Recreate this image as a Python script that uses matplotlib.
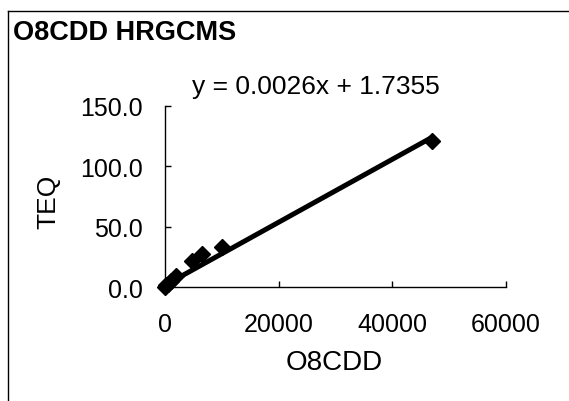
import matplotlib
matplotlib.use("Agg")
import matplotlib.pyplot as plt
from matplotlib.lines import Line2D
import numpy as np

plt.rcParams["font.family"] = ["Liberation Sans", "DejaVu Sans"]

# data
o8cdd = [50, 200, 500, 1000, 2000, 4700, 6450, 9970, 46900]
teq = [0.5, 1.5, 3.0, 5.0, 9.0, 22.0, 27.5, 33.0, 121.0]
slope = 0.0026
intercept = 1.7355

x_ticks = [0, 20000, 40000, 60000]
y_ticks = [0, 50, 100, 150]

fig = plt.figure(figsize=(5.69, 4.02), dpi=100)
fig.patch.set_facecolor("white")
ax = fig.add_axes([165 / 569, 1 - 288.3 / 402, (506 - 165) / 569, (288.3 - 106.7) / 402])

ax.plot(o8cdd, teq, linestyle="none", marker="D", markersize=8,
        color="black", zorder=3, clip_on=False)
xs = np.array([0, max(o8cdd)])
ax.plot(xs, slope * xs + intercept, color="black", linewidth=3.6,
        solid_capstyle="round", zorder=4, clip_on=False)

ax.set_xlim(0, 60000)
ax.set_ylim(0, 150)
ax.set_xticks(x_ticks)
ax.set_xticklabels([str(v) for v in x_ticks])
ax.set_yticks(y_ticks)
ax.set_yticklabels([f"{v:.1f}" for v in y_ticks])
ax.tick_params(direction="in", length=4, width=1, labelsize=18)
ax.tick_params(axis="x", pad=18)
ax.tick_params(axis="y", pad=16)
for side in ("top", "right"):
    ax.spines[side].set_visible(False)
for side in ("left", "bottom"):
    ax.spines[side].set_linewidth(1.0)

ax.set_xlabel("O8CDD", fontsize=20)
ax.xaxis.set_label_coords((334.5 - 165) / (506 - 165), -(350 - 288.3) / (288.3 - 106.7))
fig.text(48 / 569, 1 - 202 / 402, "TEQ", rotation=90, fontsize=19,
         ha="center", va="center")

fig.text(13 / 569, 1 - 32.5 / 402, "O8CDD HRGCMS", fontsize=19.5,
         fontweight="bold", ha="left", va="center")
fig.text(316 / 569, 1 - 86.7 / 402, "y = 0.0026x + 1.7355", fontsize=19,
         ha="center", va="center")

# outer chart border (only left and top edges show)
fig.add_artist(Line2D([8 / 569, 8 / 569], [0, 1 - 11.7 / 402], color="black", linewidth=1))
fig.add_artist(Line2D([8 / 569, 1], [1 - 11.7 / 402, 1 - 11.7 / 402], color="black", linewidth=1))

fig.savefig("out.png", dpi=100)
plt.close(fig)
